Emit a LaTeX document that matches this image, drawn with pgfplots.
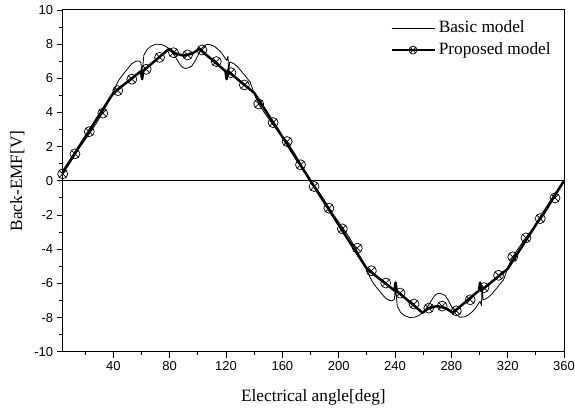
\documentclass[border=0pt]{standalone}
\usepackage{fontspec}
\setmainfont{Liberation Serif}
\newfontfamily\tickfont{Liberation Sans}
\usepackage{pgfplots}
\pgfplotsset{compat=1.18}
\begin{document}
\begin{tikzpicture}
\begin{axis}[name=ax, scale only axis, width=501.3pt, height=341.7pt,
  xmin=4, xmax=360, ymin=-10, ymax=10, clip=false,
  xtick={40,80,...,360}, minor xtick={20,60,...,340},
  ytick={-10,-8,...,10}, minor ytick={-9,-7,...,9},
  tick align=outside, xtick pos=bottom, ytick pos=left,
  major tick length=6pt, minor tick length=3.5pt,
  tick style={black, line width=0.9pt},
  axis line style={line width=1pt},
  ticklabel style={font=\tickfont\fontsize{13}{15}\selectfont},
  /pgf/number format/assume math mode=true,
  xlabel={Electrical angle[deg]}, ylabel={Back-EMF[V]},
  label style={font=\fontsize{17.3}{20}\selectfont},
  xlabel style={yshift=-12pt},
  ylabel style={yshift=3pt},
  legend style={draw=none, fill=none, at={(0.653,0.979)}, anchor=north west,
    font=\fontsize{17.3}{20}\selectfont, row sep=0pt, inner sep=0pt,
    nodes={inner xsep=3pt, inner ysep=3pt, text depth=3.8pt, text height=12pt}},
  legend cell align=left,
  legend image code/.code={\draw[mark repeat=2,mark phase=2,#1] plot coordinates {(0pt,0pt) (21.5pt,0pt) (43pt,0pt)};},
]
\addplot[black, line width=0.8pt, forget plot] coordinates {(4,0) (360,0)};
\addplot[black, line width=0.8pt, line join=round] coordinates {
(4,0.42) (8,0.90) (12,1.42) (16,1.95) (20,2.42) (24,2.88) (28,3.38) (32,3.95) (36,4.55) (40,5.20)
(42,5.60) (44,5.92) (47,6.25) (50,6.55) (53,6.85) (56,7.00) (58,7.02) (59.6,6.92) (60.4,5.95) (61,6.80)
(61.6,7.35) (64,7.70) (67,7.90) (70.5,8.00) (74,7.98) (77,7.88) (79,7.76) (81.5,7.55) (84,7.25) (87,6.85)
(89,6.65) (91,6.58) (93.5,6.62) (95.7,6.72) (97.5,6.95) (99.2,7.20) (101,7.50) (103,7.78) (106,7.98) (109,7.97)
(112,7.86) (115,7.65) (117,7.47) (119.3,7.18) (120.4,7.05) (121.4,7.30) (121.8,6.10) (122.5,6.95) (124,6.92) (126,6.83)
(128.5,6.65) (131,6.40) (134,6.10) (137,5.80) (139,5.35) (141,4.90) (144,4.40) (147,4.02) (150,3.67) (153,3.32)
(156,2.98) (160,2.60) (163,2.30) (166,1.95) (170,1.42) (174,0.85) (178,0.30) (180,0.00)
(184,-0.42) (188,-0.90) (192,-1.42) (196,-1.95) (200,-2.42) (204,-2.88) (208,-3.38) (212,-3.95) (216,-4.55) (220,-5.20)
(222,-5.60) (224,-5.92) (227,-6.25) (230,-6.55) (233,-6.85) (236,-7.00) (238,-7.02) (239.6,-6.92) (240.4,-5.95) (241,-6.80)
(241.6,-7.35) (244,-7.70) (247,-7.90) (250.5,-8.00) (254,-7.98) (257,-7.88) (259,-7.76) (261.5,-7.55) (264,-7.25) (267,-6.85)
(269,-6.65) (271,-6.58) (273.5,-6.62) (275.7,-6.72) (277.5,-6.95) (279.2,-7.20) (281,-7.50) (283,-7.78) (286,-7.98) (289,-7.97)
(292,-7.86) (295,-7.65) (297,-7.47) (299.3,-7.18) (300.4,-7.05) (301.4,-7.30) (301.8,-6.10) (302.5,-6.95) (304,-6.92) (306,-6.83)
(308.5,-6.65) (311,-6.40) (314,-6.10) (317,-5.80) (319,-5.35) (321,-4.90) (324,-4.40) (327,-4.02) (330,-3.67) (333,-3.32)
(336,-2.98) (340,-2.60) (343,-2.30) (346,-1.95) (350,-1.42) (354,-0.85) (358,-0.30) (360,0.00)
};
\addlegendentry{Basic model}
\addplot[black, line width=2.5pt, line join=round, forget plot] coordinates {
(4,0.50) (40,5.15) (59.6,6.42) (60.4,5.95) (61.2,6.45) (79.5,7.72) (84,7.45) (90,7.33) (96,7.45) (101,7.72)
(119.6,6.42) (120.4,5.95) (121.2,6.42) (140,5.15) (180,0)
(220,-5.15) (239.6,-6.42) (240.4,-5.95) (241.2,-6.45) (259.5,-7.72) (264,-7.45) (270,-7.33) (276,-7.45) (281,-7.72)
(299.6,-6.42) (300.4,-5.95) (301.2,-6.42) (320,-5.15) (360,0)
};
\addplot[black, only marks, mark=otimes, mark size=5pt, mark options={fill=white, line width=0.7pt}, forget plot] coordinates {
(4,0.41) (12.7,1.58) (22.9,2.88) (32.5,3.96) (43.1,5.28) (53.1,5.95) (63.3,6.53) (72.8,7.23) (82.7,7.50) (92.7,7.37)
(102.9,7.66) (113.1,6.98) (123.5,6.33) (133.0,5.61) (143.2,4.50) (153.4,3.41) (163.4,2.30) (172.9,0.94)
(182.5,-0.33) (193.0,-1.60) (202.6,-2.81) (213.2,-3.94) (223.2,-5.26) (233.4,-5.98) (243.6,-6.57) (253.5,-7.21) (264.0,-7.45) (273.5,-7.33)
(283.5,-7.61) (293.4,-6.96) (303.2,-6.25) (313.5,-5.53) (323.6,-4.45) (333.0,-3.34) (343.1,-2.21) (353.6,-1.00)
};
\addlegendimage{black, line width=2.5pt, mark=otimes, mark size=4pt, mark options={fill=white, line width=0.7pt}}
\addlegendentry{Proposed model}
\end{axis}
\pgfresetboundingbox
\path ([shift={(-62.7pt,-57.3pt)}]ax.south west) rectangle ([shift={(11pt,10pt)}]ax.north east);
\end{tikzpicture}
\end{document}
